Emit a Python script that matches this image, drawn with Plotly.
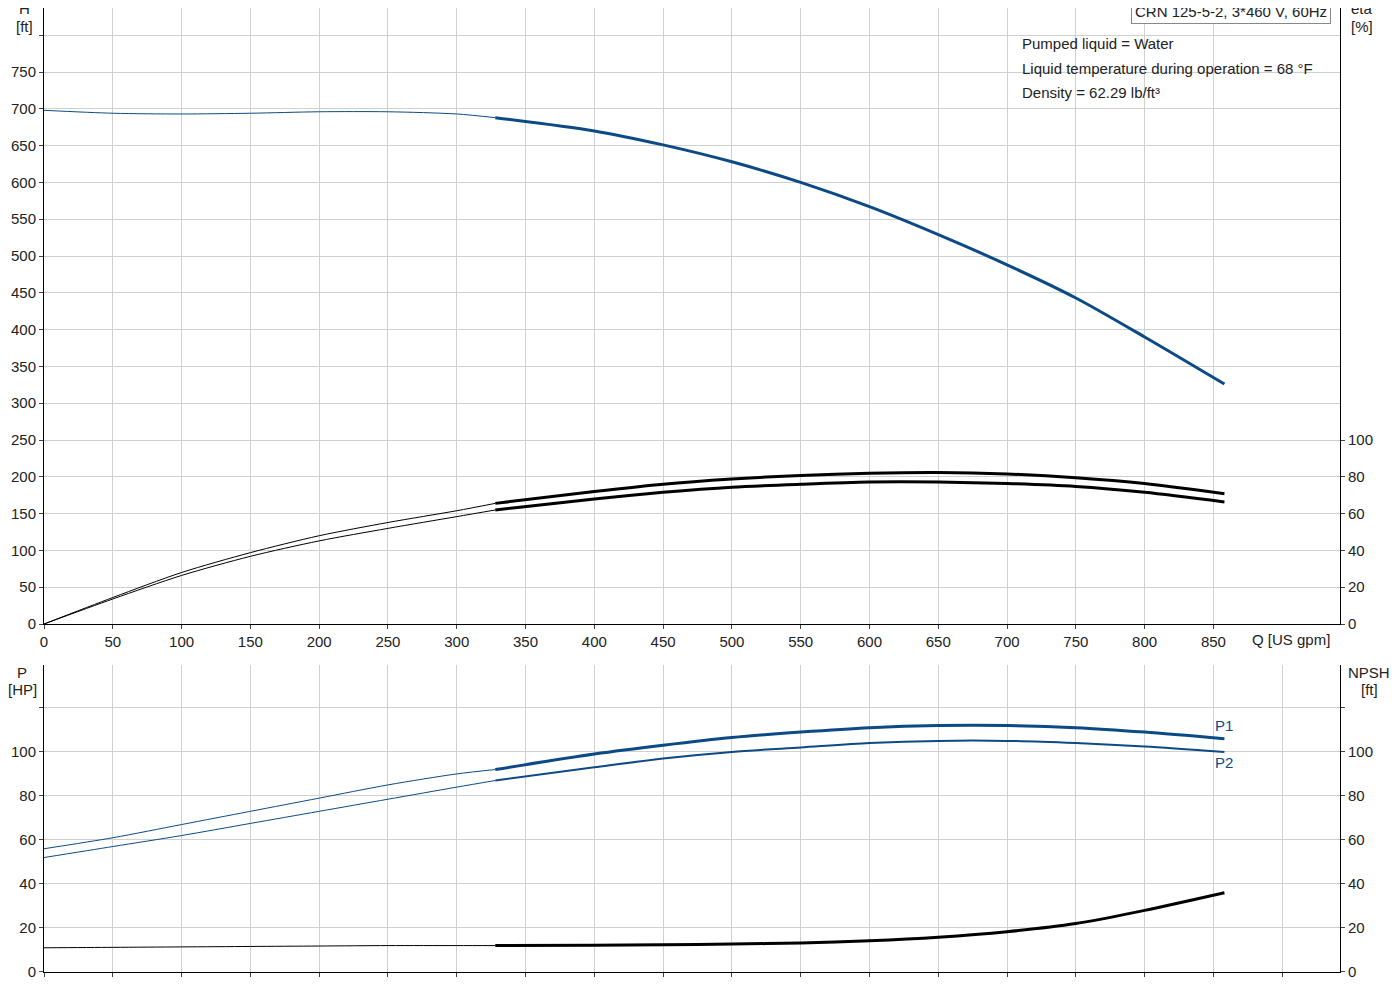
import plotly.graph_objects as go

q_lo = [0, 50, 100, 150, 200, 250, 300, 328]
q_hi = [328, 400, 450, 500, 550, 600, 650, 700, 750, 800, 858]
h_lo = [698, 694, 693, 694, 696, 696, 693, 688]
h_hi = [688, 670, 651, 628, 600, 567, 529, 488, 443, 390, 326]
eta1_lo = [0, 36, 70, 97, 120, 138, 154, 164]
eta1_hi = [164, 180, 190, 197, 202, 205, 206, 204, 199, 191, 177]
eta2_lo = [0, 34, 66, 92, 113, 130, 146, 155]
eta2_hi = [155, 170, 179, 186, 190, 193, 193, 191, 187, 179, 166]
p1_lo = [56, 61, 67, 73, 79, 85, 90, 92]
p1_hi = [92, 99, 103, 106.5, 109, 111, 112, 112, 111, 109, 106]
p2_lo = [52, 57, 62, 67.5, 73, 78.5, 84, 87]
p2_hi = [87, 93, 97, 100, 102, 104, 105, 105, 104, 102.5, 100]
npsh_lo = [11, 11.2, 11.4, 11.6, 11.8, 12, 12, 12]
npsh_hi = [12, 12.2, 12.4, 12.7, 13.2, 14.2, 15.8, 18.3, 22, 28, 36]

BLUE = "#0b4a86"
fig = go.Figure()
def add(x, y, color, w, xa="x", ya="y"):
    fig.add_trace(go.Scatter(x=x, y=y, mode="lines", line=dict(color=color, width=w, shape="spline", smoothing=0.8),
                             xaxis=xa, yaxis=ya, showlegend=False, hoverinfo="skip"))
add(q_lo, h_lo, BLUE, 1)
add(q_hi, h_hi, BLUE, 3)
for lo, hi in [(eta1_lo, eta1_hi), (eta2_lo, eta2_hi)]:
    add(q_lo, [v / 2.5 for v in lo], "black", 1, ya="y3")
    add(q_hi, [v / 2.5 for v in hi], "black", 3, ya="y3")
add(q_lo, p1_lo, BLUE, 1, "x2", "y2")
add(q_hi, p1_hi, BLUE, 3, "x2", "y2")
add(q_lo, p2_lo, BLUE, 1, "x2", "y2")
add(q_hi, p2_hi, BLUE, 2, "x2", "y2")
add(q_lo, npsh_lo, "black", 1, "x2", "y4")
add(q_hi, npsh_hi, "black", 3, "x2", "y4")

grid = "#d0d0d0"
font = dict(family="Liberation Sans, Arial", size=15, color="#222")
xcommon = dict(range=[0, 942], dtick=50, gridcolor=grid, showline=True, linecolor="black",
               ticks="outside", ticklen=4, zeroline=False, tickfont=font)
fig.update_layout(
    width=1400, height=1000, plot_bgcolor="white", paper_bgcolor="white",
    margin=dict(l=36, r=68, t=0, b=36), font=font,
    xaxis=dict(**xcommon, anchor="y", tickvals=list(range(0, 851, 50))),
    xaxis2=dict(**xcommon, anchor="y2", showticklabels=False),
    yaxis=dict(domain=[0.361, 1], range=[0, 837], tickvals=list(range(0, 801, 50)),
               ticktext=[str(v) for v in range(0, 751, 50)] + [""], gridcolor=grid,
               showline=True, linecolor="black", ticks="outside", ticklen=4, zeroline=False, tickfont=font),
    yaxis3=dict(overlaying="y", side="right", range=[0, 335], tickvals=list(range(0, 101, 20)),
                showgrid=False, showline=True, linecolor="black", ticks="outside", ticklen=4,
                zeroline=False, tickfont=font, anchor="x"),
    yaxis2=dict(domain=[0, 0.3185], range=[0, 139.5], tickvals=list(range(0, 121, 20)),
                ticktext=[str(v) for v in range(0, 101, 20)] + [""], gridcolor=grid,
                showline=True, linecolor="black", ticks="outside", ticklen=4, zeroline=False,
                tickfont=font, anchor="x2"),
    yaxis4=dict(overlaying="y2", side="right", range=[0, 139.5], tickvals=list(range(0, 121, 20)),
                ticktext=[str(v) for v in range(0, 101, 20)] + [""], showgrid=False,
                showline=True, linecolor="black", ticks="outside", ticklen=4, zeroline=False,
                tickfont=font, anchor="x2"),
)
def px(x): return (x - 44) / 1296
def py(y): return (972 - y) / 964
def b(x, y, text, anchor="center", color="#222", **kw):
    fig.add_annotation(x=px(x), y=py(y), xref="paper", yref="paper", text=text, showarrow=False,
                       xanchor=anchor, yanchor="middle", font=dict(family="Liberation Sans, Arial", size=15, color=color), **kw)
b(24, 8, "H"); b(24, 26, "[ft]")
b(1362, 8, "eta"); b(1362, 26, "[%]")
b(22, 672, "P"); b(22, 690, "[HP]")
b(1369, 672, "NPSH"); b(1369, 690, "[ft]")
b(1250, 639, "Q [US gpm]", anchor="left")
b(1020, 44, "Pumped liquid = Water", anchor="left")
b(1020, 68, "Liquid temperature during operation = 68 °F", anchor="left")
b(1020, 92, "Density = 62.29 lb/ft³", anchor="left")
b(1231, 12, "CRN 125-5-2, 3*460 V, 60Hz", bordercolor="#888", borderwidth=1, borderpad=3, bgcolor="white")
b(1213, 725, "P1", anchor="left", color=BLUE)
b(1213, 762, "P2", anchor="left", color=BLUE)
fig.write_html("out.html")
